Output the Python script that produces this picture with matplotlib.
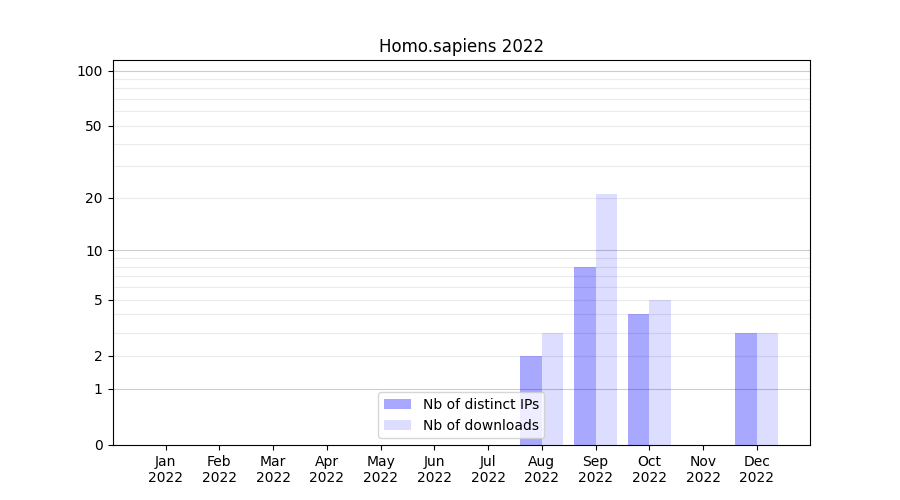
import numpy as np
import matplotlib
matplotlib.use("Agg")
import matplotlib.pyplot as plt

months = ['Jan', 'Feb', 'Mar', 'Apr', 'May', 'Jun', 'Jul', 'Aug', 'Sep', 'Oct', 'Nov', 'Dec']
year = '2022'
distinct_ips = [0, 0, 0, 0, 0, 0, 0, 2, 8, 4, 0, 3]
downloads = [0, 0, 0, 0, 0, 0, 0, 3, 21, 5, 0, 3]
yticks = [0, 1, 2, 5, 10, 20, 50, 100]
major_lines = [1, 10, 100]
minor_lines = [2, 3, 4, 5, 6, 7, 8, 9, 20, 30, 40, 50, 60, 70, 80, 90]


def forward(y):
    return np.log10(1 + np.clip(y, 0, None))


def inverse(y):
    return 10 ** y - 1


fig, ax = plt.subplots(figsize=(9, 5), dpi=100)
ax.set_yscale('function', functions=(forward, inverse))

for v in minor_lines:
    ax.axhline(v, color='#ebebeb', linewidth=0.8, zorder=0)
for v in major_lines:
    ax.axhline(v, color='#cccccc', linewidth=0.8, zorder=0)

x = np.arange(len(months))
ax.bar(x - 0.2, distinct_ips, width=0.4, color='blue', alpha=0.34, label='Nb of distinct IPs')
ax.bar(x + 0.2, downloads, width=0.4, color='blue', alpha=0.135, label='Nb of downloads')

ax.set_xticks(x)
ax.set_xticklabels([m + '\n' + year for m in months])
ax.set_yticks(yticks)
ax.set_yticklabels([str(t) for t in yticks])
ax.minorticks_off()
ax.set_ylim(0, 114)
ax.set_title('Homo.sapiens 2022')
ax.legend(loc='lower center')

fig.savefig('out.png')
